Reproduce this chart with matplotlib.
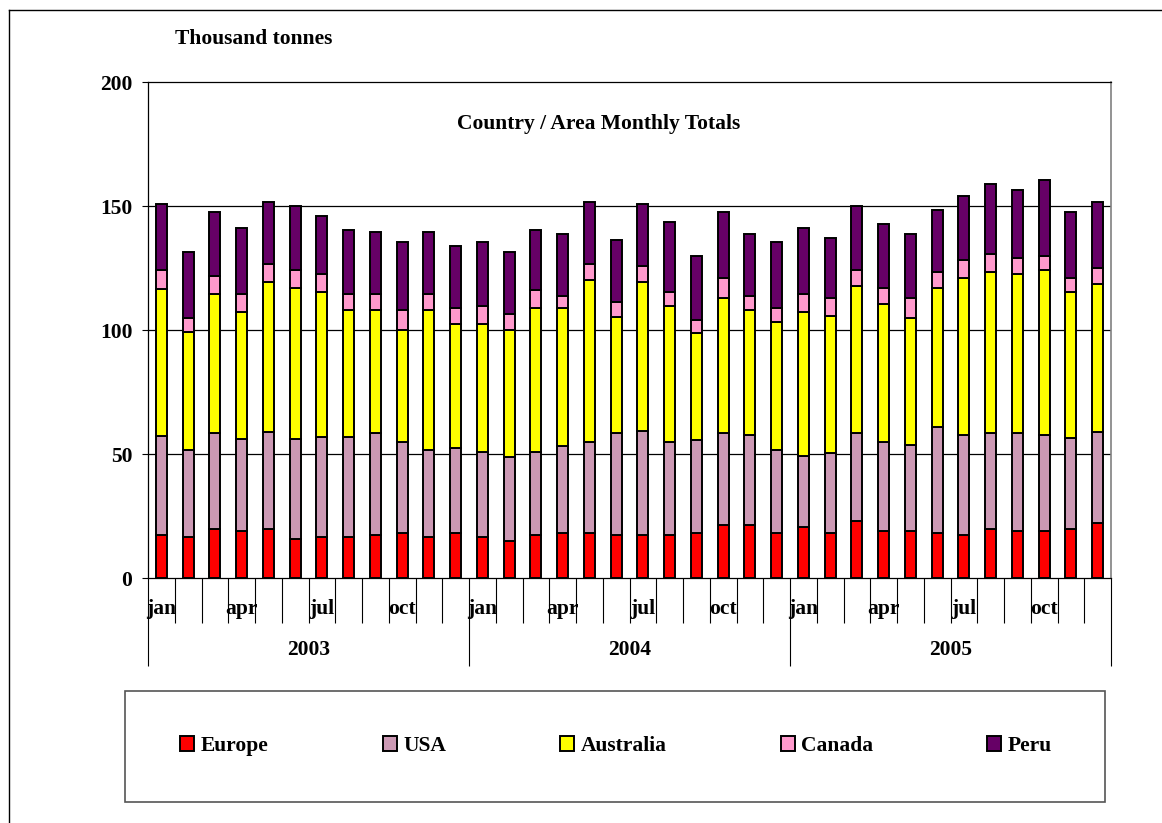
import matplotlib
matplotlib.use("Agg")
import matplotlib.pyplot as plt
import matplotlib.transforms as mtransforms
from matplotlib.patches import Rectangle
from matplotlib.lines import Line2D
import numpy as np

plt.rcParams['font.family'] = ['Liberation Serif', 'DejaVu Serif']
plt.rcParams['font.weight'] = 'bold'
FS = 15.5

years = ['2003', '2004', '2005']
month_labels = ['jan', 'apr', 'jul', 'oct']
month_label_idx = [0, 3, 6, 9]

europe = [17.2, 16.5, 19.6, 19.1, 19.6, 15.8, 16.6, 16.6, 17.2, 18.1, 16.6, 18.0,
          16.6, 15.0, 17.4, 18.3, 18.3, 17.4, 17.4, 17.4, 18.3, 21.5, 21.5, 18.3,
          20.5, 18.1, 22.9, 18.9, 18.9, 18.1, 17.3, 19.7, 18.9, 18.9, 19.7, 22.1]
usa = [40.2, 35.3, 38.8, 36.9, 39.4, 40.2, 40.2, 40.2, 41.2, 36.9, 35.2, 34.6,
       34.4, 33.6, 33.6, 35.1, 36.7, 41.0, 41.8, 37.6, 37.5, 36.9, 36.1, 33.5,
       28.7, 32.2, 35.5, 36.1, 34.6, 42.7, 40.3, 38.7, 39.5, 38.7, 36.9, 36.8]
australia = [59.3, 47.4, 56.2, 51.2, 60.3, 61.0, 58.6, 51.2, 49.6, 45.0, 56.2, 49.8,
             51.5, 51.4, 58.0, 55.6, 65.2, 46.7, 60.1, 54.8, 42.8, 54.6, 50.6, 51.5,
             58.0, 55.3, 59.3, 55.4, 51.3, 56.1, 63.3, 64.9, 64.1, 66.5, 58.7, 59.6]
canada = [7.4, 5.7, 7.1, 7.3, 7.2, 7.1, 7.1, 6.5, 6.5, 8.0, 6.5, 6.4,
          7.1, 6.4, 7.2, 4.7, 6.3, 6.3, 6.4, 5.6, 5.4, 7.9, 5.5, 5.5,
          7.3, 7.3, 6.4, 6.5, 8.1, 6.4, 7.3, 7.3, 6.5, 5.7, 5.7, 6.4]
peru = [26.6, 26.6, 25.9, 26.7, 25.1, 26.1, 23.6, 25.9, 25.1, 27.5, 25.1, 25.1,
        25.9, 25.1, 24.2, 25.1, 25.0, 24.9, 25.0, 28.2, 25.9, 26.6, 25.1, 26.7,
        26.7, 24.2, 25.9, 25.9, 25.9, 25.1, 25.9, 28.3, 27.5, 30.7, 26.6, 26.7]

series = [('Europe', europe, '#FF0000'),
          ('USA', usa, '#CC99B4'),
          ('Australia', australia, '#FFFF00'),
          ('Canada', canada, '#FF99CC'),
          ('Peru', peru, '#660066')]

W, H = 1162, 823
fig = plt.figure(figsize=(W / 100, H / 100), dpi=100)
ax = fig.add_axes([148 / W, 1 - 578 / H, (1111 - 148) / W, 496 / H])

x = np.arange(len(europe))
bottom = np.zeros(len(x))
handles = []
for name, vals, col in series:
    b = ax.bar(x, vals, width=0.42, bottom=bottom, color=col, edgecolor='black',
               linewidth=1.4, label=name, zorder=3)
    handles.append(b)
    bottom += np.array(vals)

ax.set_xlim(-0.5, len(x) - 0.5)
ax.set_ylim(0, 200)
ax.set_yticks([0, 50, 100, 150, 200])
for v in [50, 100, 150]:
    ax.axhline(v, color='black', linewidth=0.9, zorder=1)

for s in ['left', 'bottom', 'top']:
    ax.spines[s].set_color('black')
    ax.spines[s].set_linewidth(0.9)
ax.spines['right'].set_color('#808080')
ax.spines['right'].set_linewidth(1.2)

ax.tick_params(axis='y', direction='out', length=4.3, width=0.8, pad=7,
               labelsize=FS)
for lab in ax.get_yticklabels():
    lab.set_fontweight('bold')

# category boundaries on x
n = len(x)
year_bounds = [-0.5 + 12 * k for k in range(len(years) + 1)]
month_bounds = [i - 0.5 for i in range(1, n) if i % 12 != 0]
ax.set_xticks(year_bounds)
ax.set_xticks(month_bounds, minor=True)
ax.set_xticklabels([''] * len(year_bounds))
ax.tick_params(axis='x', which='major', direction='out', length=63, width=0.8)
ax.tick_params(axis='x', which='minor', direction='out', length=32.5, width=0.8)

trans = mtransforms.blended_transform_factory(ax.transData, fig.transFigure)
for yi, yr in enumerate(years):
    for idx, m in zip(month_label_idx, month_labels):
        ax.text(yi * 12 + idx, 1 - 609 / H, m, transform=trans, ha='center',
                va='center', fontsize=FS, fontweight='bold')
    ax.text(yi * 12 + 5.5, 1 - 650 / H, yr, transform=trans, ha='center',
            va='center', fontsize=FS, fontweight='bold')

ax.text(599 / W, 1 - 124 / H, 'Country / Area Monthly Totals', transform=fig.transFigure,
        ha='center', va='center', fontsize=FS, fontweight='bold')
fig.text(175 / W, 1 - 39 / H, 'Thousand tonnes', ha='left', va='center',
         fontsize=FS, fontweight='bold')

# legend box
fig.patches.append(Rectangle((125 / W, 1 - 802 / H), (1105 - 125) / W, (802 - 691) / H,
                             transform=fig.transFigure, fill=False,
                             edgecolor='#555555', linewidth=1.2))
leg = fig.legend(handles=handles, loc='center', bbox_to_anchor=(616 / W, 1 - 746 / H),
                 ncol=5, frameon=False, handlelength=0.65,
                 handleheight=0.65, handletextpad=0.3, columnspacing=5.3,
                 prop={'weight': 'bold', 'size': FS})

# outer frame (left and top only visible)
fig.add_artist(Line2D([9 / W, 9 / W], [0, 1 - 10 / H], color='black', linewidth=1.0))
fig.add_artist(Line2D([9 / W, 1], [1 - 10 / H, 1 - 10 / H], color='black', linewidth=1.0))

fig.savefig('out.png', dpi=100)
